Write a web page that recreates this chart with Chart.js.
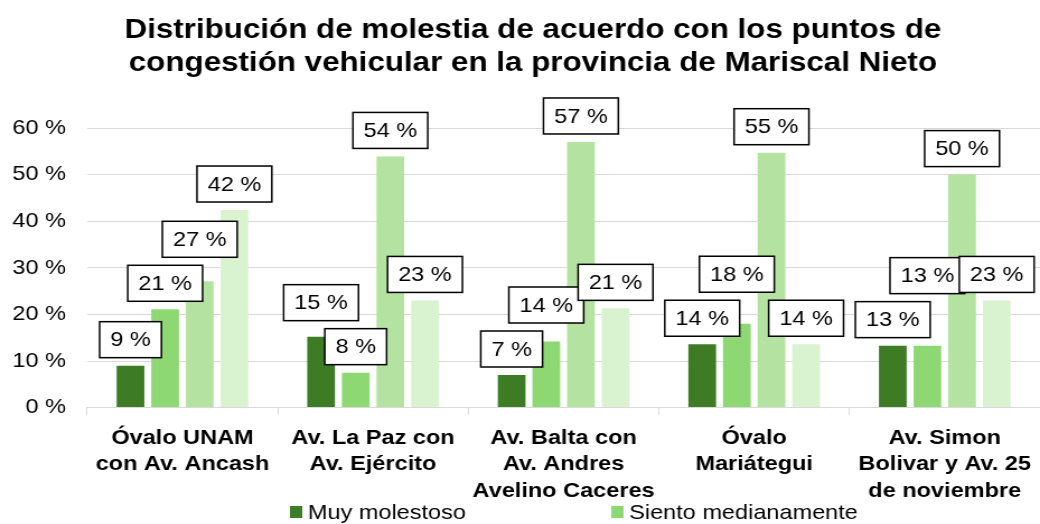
<!DOCTYPE html>
<html>
<head>
<meta charset="utf-8">
<script src="https://cdn.jsdelivr.net/npm/chart.js@4.4.0/dist/chart.umd.min.js"></script>
<style>
    html, body { margin: 0; padding: 0; background: #fff; overflow: hidden; }
    /* el original está estirado a lo ancho, por eso el lienzo se escala en X */
    #wrap { width: 929px; height: 524px; transform: scaleX(1.1195); transform-origin: 0 0; }
</style>
</head>
<body>
<div id="wrap"><canvas id="chart" width="929" height="524"></canvas></div>
<script>
// --- Datos ---
const titleLines = ['Distribución de molestia de acuerdo con los puntos de', 'congestión vehicular en la provincia de Mariscal Nieto'];
const categories = [
    ['Óvalo UNAM', 'con Av. Ancash'],
    ['Av. La Paz con', 'Av. Ejército'],
    ['Av. Balta con', 'Av. Andres', 'Avelino Caceres'],
    ['Óvalo', 'Mariátegui'],
    ['Av. Simon', 'Bolivar y Av. 25', 'de noviembre']
];
const seriesNames = ['Muy molestoso', 'Siento medianamente', 'Poco molestoso', 'No me molesta'];
const muyMolestoso = [9.0, 15.2, 7.0, 13.6, 13.3];
const sientoMedianamente = [21.1, 7.5, 14.2, 18.0, 13.3];
const pocoMolestoso = [27.1, 53.9, 57.0, 54.7, 50.0];
const noMolesta = [42.4, 23.0, 21.3, 13.6, 23.0];
const yTicks = [0, 10, 20, 30, 40, 50, 60];

const colors = ['#3d7c25', '#8ed873', '#b4e3a1', '#d9f2d0'];
const FONT = '"Liberation Sans", Arial, sans-serif';

// Etiquetas en caja por encima de cada barra, subiendo las que chocan
const boxLabels = {
    id: 'boxLabels',
    afterDatasetsDraw(chart) {
        const ctx = chart.ctx;
        const padX = 9.5, h = 36, gap = 8;
        ctx.save();
        ctx.font = `21px ${FONT}`;
        ctx.textAlign = 'center';
        ctx.textBaseline = 'middle';
        chart.data.labels.forEach((_, i) => {
            const items = chart.data.datasets.map((ds, d) => {
                const bar = chart.getDatasetMeta(d).data[i];
                const text = Math.round(ds.data[i]) + ' %';
                const w = ctx.measureText(text).width + padX * 2;
                return { v: ds.data[i], d, text, x: bar.x, w, bottom: bar.y - gap };
            });
            const order = items.slice().sort((a, b) => a.v - b.v || a.d - b.d);
            const placed = [];
            order.forEach(it => {
                let moved = true;
                while (moved) {
                    moved = false;
                    for (const p of placed) {
                        const hOver = Math.min(it.x + it.w / 2, p.x + p.w / 2) - Math.max(it.x - it.w / 2, p.x - p.w / 2);
                        const top = it.bottom - h, pTop = p.bottom - h;
                        if (hOver > 6 && it.bottom > pTop - gap && top < p.bottom) {
                            it.bottom = pTop - gap;
                            moved = true;
                        }
                    }
                }
                placed.push(it);
            });
            items.forEach(it => {
                const left = it.x - it.w / 2, top = it.bottom - h;
                ctx.fillStyle = '#fff';
                ctx.fillRect(left, top, it.w, h);
                ctx.strokeStyle = '#000';
                ctx.lineWidth = 1.5;
                ctx.strokeRect(left, top, it.w, h);
                ctx.fillStyle = '#000';
                ctx.fillText(it.text, it.x, top + h / 2 + 1);
            });
        });
        ctx.restore();
    }
};

// Título y leyenda dibujados a mano
const titleAndLegend = {
    id: 'titleAndLegend',
    afterDraw(chart) {
        const ctx = chart.ctx;
        ctx.save();
        ctx.fillStyle = '#000';
        ctx.font = `bold 28px ${FONT}`;
        ctx.textAlign = 'center';
        ctx.textBaseline = 'alphabetic';
        titleLines.forEach((t, k) => ctx.fillText(t, 476, 38 + k * 33));

        // leyenda en 2 columnas; la segunda fila queda fuera del lienzo
        ctx.font = `21px ${FONT}`;
        ctx.textAlign = 'left';
        ctx.textBaseline = 'middle';
        const cols = [259, 546], rowY = 512, rowH = 27;
        chart.data.datasets.forEach((ds, d) => {
            const x = cols[d % 2], y = rowY + Math.floor(d / 2) * rowH;
            ctx.fillStyle = ds.backgroundColor;
            ctx.fillRect(x, y - 6, 11, 12);
            ctx.fillStyle = '#000';
            ctx.fillText(ds.label, x + 16, y + 1);
        });
        ctx.restore();
    }
};

const datasets = [muyMolestoso, sientoMedianamente, pocoMolestoso, noMolesta].map((values, k) => ({
    label: seriesNames[k],
    data: values,
    backgroundColor: colors[k],
    barPercentage: 0.8,
    categoryPercentage: 0.727
}));

new Chart(document.getElementById('chart'), {
    type: 'bar',
    data: { labels: categories, datasets },
    options: {
        responsive: false,
        animation: false,
        devicePixelRatio: 1,
        layout: { padding: { top: 128, left: 11, right: 0, bottom: 10 } },
        plugins: {
            legend: { display: false },
            title: { display: false },
            tooltip: { enabled: false }
        },
        scales: {
            x: {
                afterFit: (axis) => { axis.paddingLeft = 0; axis.paddingRight = 0; },
                grid: { display: true, drawOnChartArea: false, drawTicks: true, tickLength: 7, color: '#d9d9d9', offset: true },
                border: { display: true, color: '#d9d9d9', width: 1 },
                ticks: {
                    color: '#000', padding: 10, maxRotation: 0, autoSkip: false,
                    font: { family: FONT, size: 21, weight: 'bold', lineHeight: 1.26 }
                }
            },
            y: {
                min: 0, max: 60,
                afterBuildTicks: (axis) => { axis.ticks = yTicks.map(v => ({ value: v })); },
                // Chart.js reserva el padding a ambos lados de las etiquetas; quitamos el de fuera
                afterFit: (axis) => { axis.width -= axis.options.ticks.padding; },
                grid: { color: '#d9d9d9', lineWidth: 1, drawTicks: false },
                border: { display: false },
                ticks: {
                    color: '#000', padding: 19,
                    font: { family: FONT, size: 21 },
                    callback: (v) => v + ' %'
                }
            }
        }
    },
    plugins: [boxLabels, titleAndLegend]
});
</script>
</body>
</html>
